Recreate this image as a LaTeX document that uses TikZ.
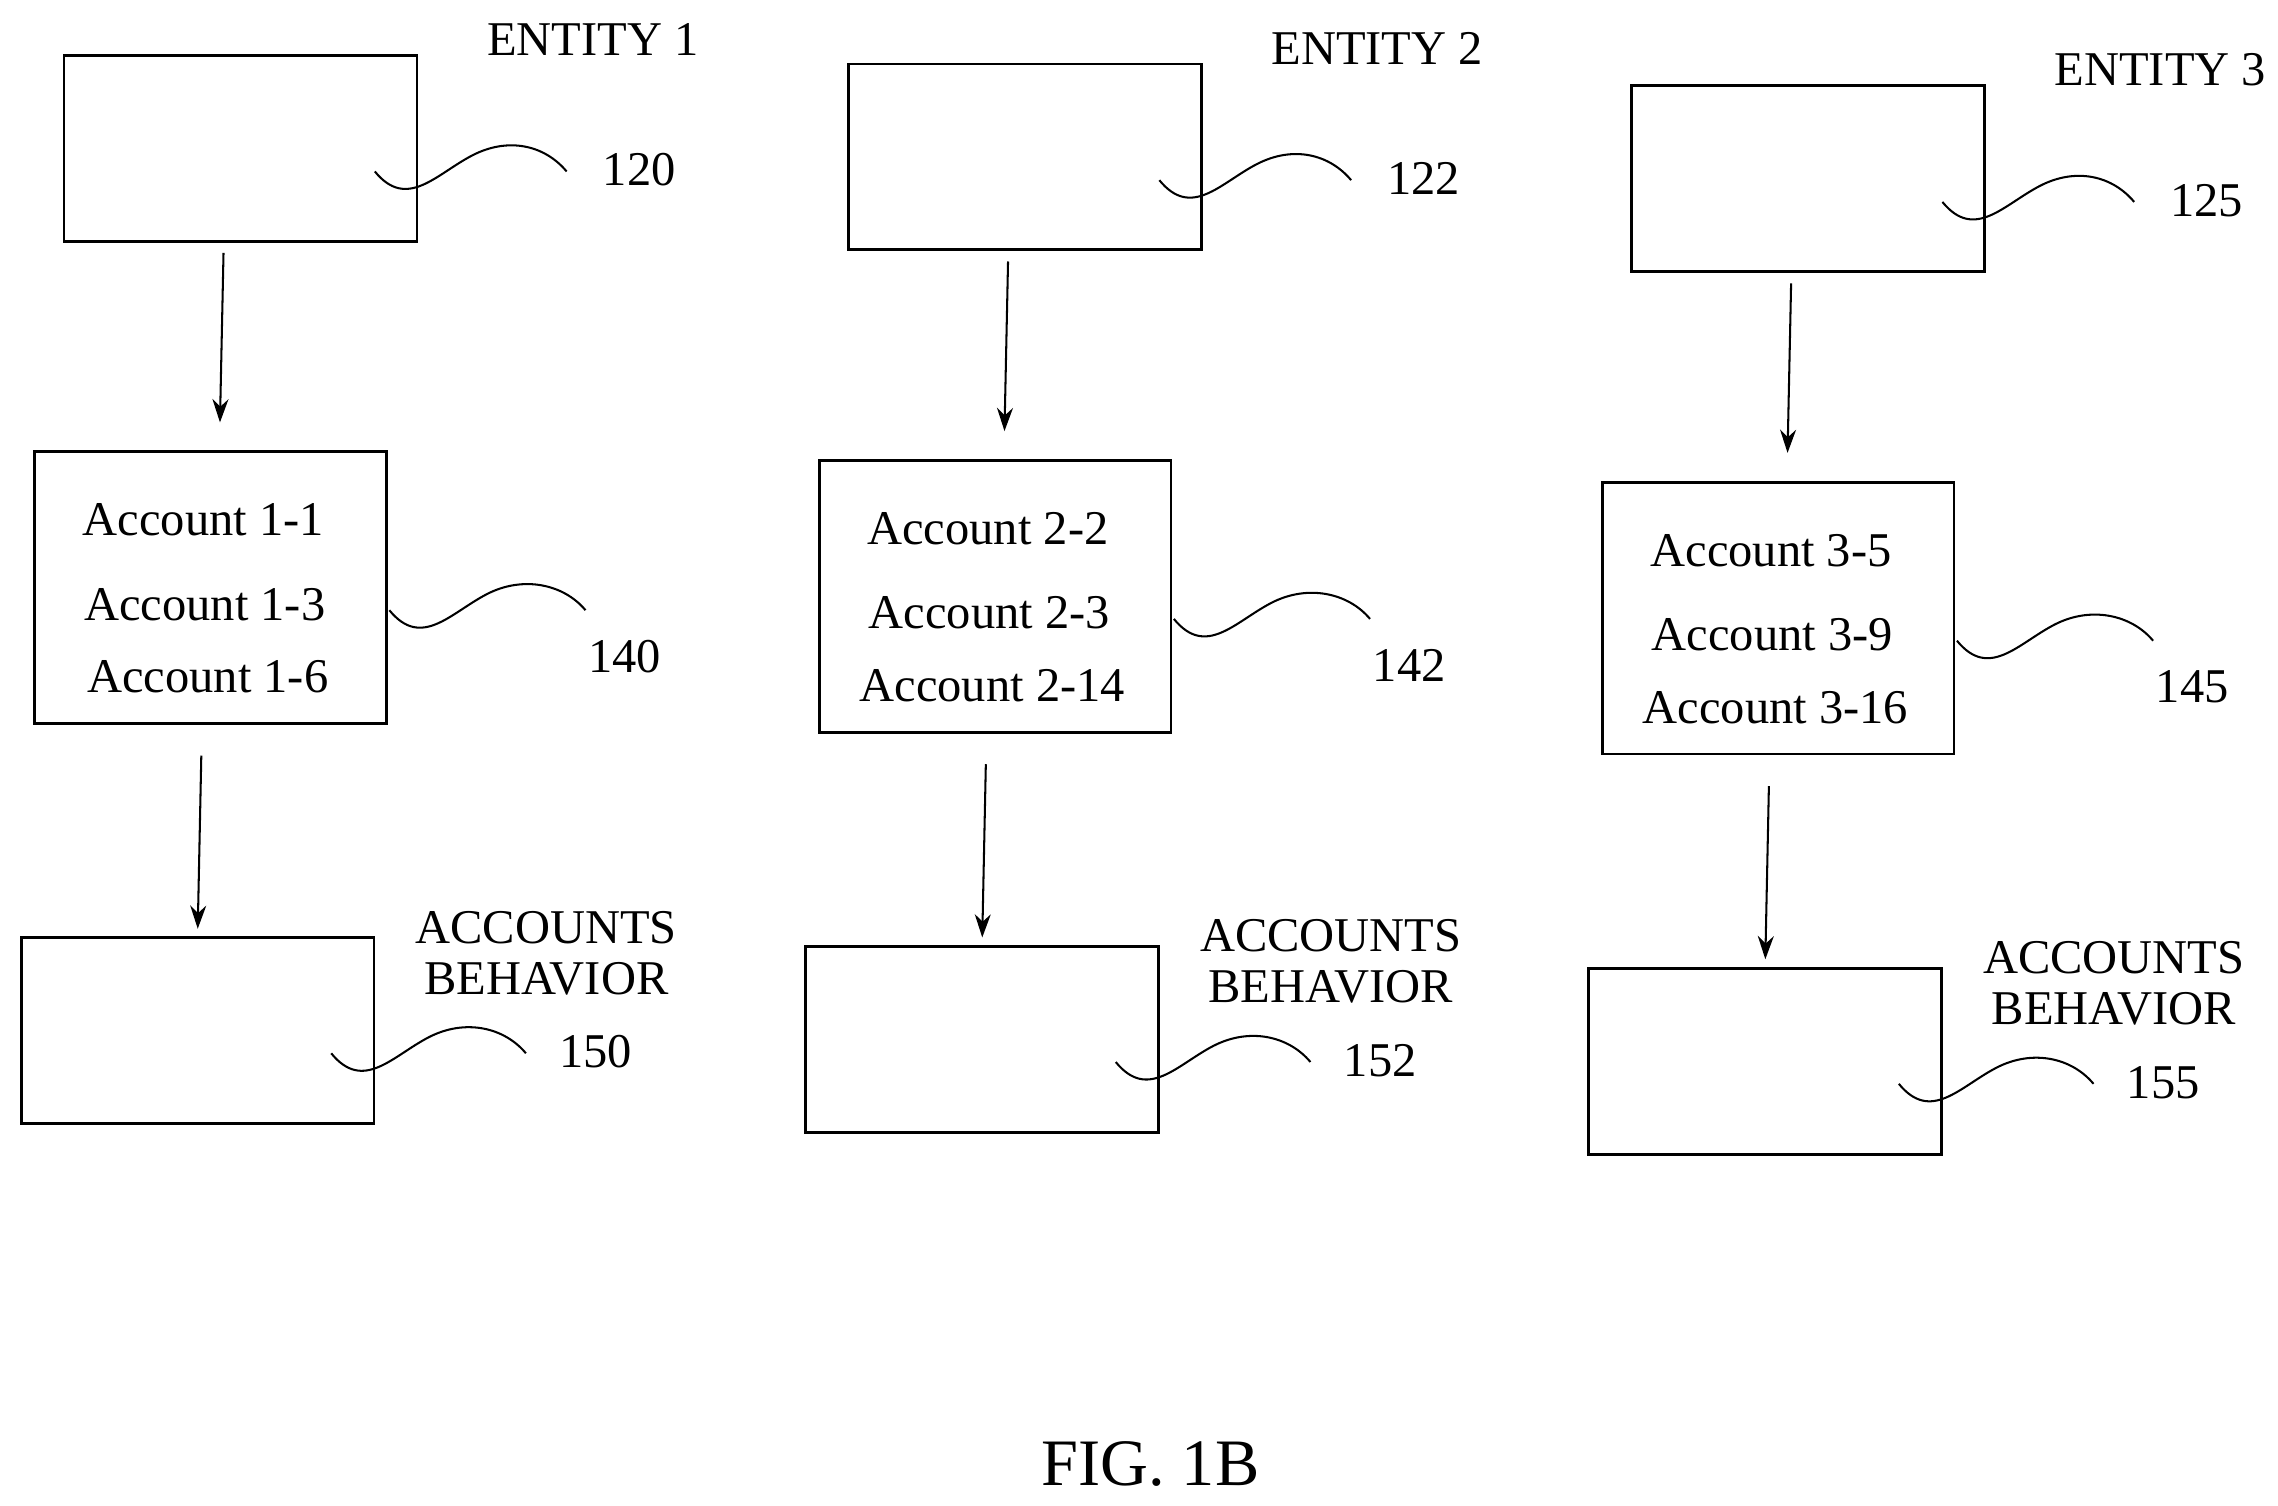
\documentclass[tikz,border=0pt]{standalone}
\usepackage{fontspec}
\setmainfont{Liberation Serif}
\usetikzlibrary{arrows.meta,positioning}
\begin{document}
\begin{tikzpicture}
			[x=0.02cm,y=-0.02cm,>={Stealth[length=0.32cm,width=0.22cm]},
			every node/.style={font=\fontsize{19}{23}\selectfont},
			box/.style={draw,line width=1.1pt,minimum width=4.86cm,minimum height=2.56cm,inner sep=0pt},
			acc box/.style={box,minimum width=4.84cm,minimum height=3.74cm},
			link/.style={->,line width=0.8pt},
			wave/.style={line width=0.8pt}]
			\useasboundingbox (0,0) rectangle (1568,1036);
			% entity columns: name, number, x shift, y shift, top, acc, beh labels, accounts
			\foreach \n/\dx/\dy/\ta/\tb/\tc/\aa/\ab/\ac in
			{1/0/0/120/140/150/1-1/1-3/1-6,
			 2/540/6/122/142/152/2-2/2-3/2-14,
			 3/1079/21/125/145/155/3-5/3-9/3-16}{
			\begin{scope}[shift={(\dx,\dy)}]
			\node [box] (top\n) at (165.5,102) {};
			\node [acc box] (acc\n) at (145,404.5) {};
			\node [box] (beh\n) at (136,709.5) {};
			\node (ent\n) at (408,27) {ENTITY \n};
			\node (num\ta) at (440,117) {\ta};
			\node (num\tb) at (430,452) {\tb};
			\node (num\tc) at (410,724) {\tc};
			\node [align=center] (lab\n) at (376,656) {ACCOUNTS\\[-3pt]BEHAVIOR};
			\node (a\n a) at (140,358) {Account \aa};
			\node (a\n b) at (141,416) {Account \ab};
			\node (a\n c) at (143,466) {Account \ac};
			\draw [link,shorten <=4,shorten >=11] ([xshift=-0.23cm]top\n.south) -- ([xshift=0.12cm]acc\n.north);
			\draw [link,shorten <=12,shorten >=3] ([xshift=-0.12cm]acc\n.south) -- (beh\n.north);
			\draw [wave] (258,118) .. controls (280,145) and (300,120) .. (325,107)
			.. controls (350,94) and (375,100) .. (390,118);
			\draw [wave] (268,420) .. controls (290,447) and (310,422) .. (335,409)
			.. controls (360,396) and (388,402) .. (403,420);
			\draw [wave] (228,725) .. controls (250,752) and (270,727) .. (295,714)
			.. controls (320,701) and (347,707) .. (362,725);
			\end{scope}}
			\node [font=\fontsize{26}{30}\selectfont] (fig) at (792,1008) {FIG. 1B};
		\end{tikzpicture}
\end{document}
